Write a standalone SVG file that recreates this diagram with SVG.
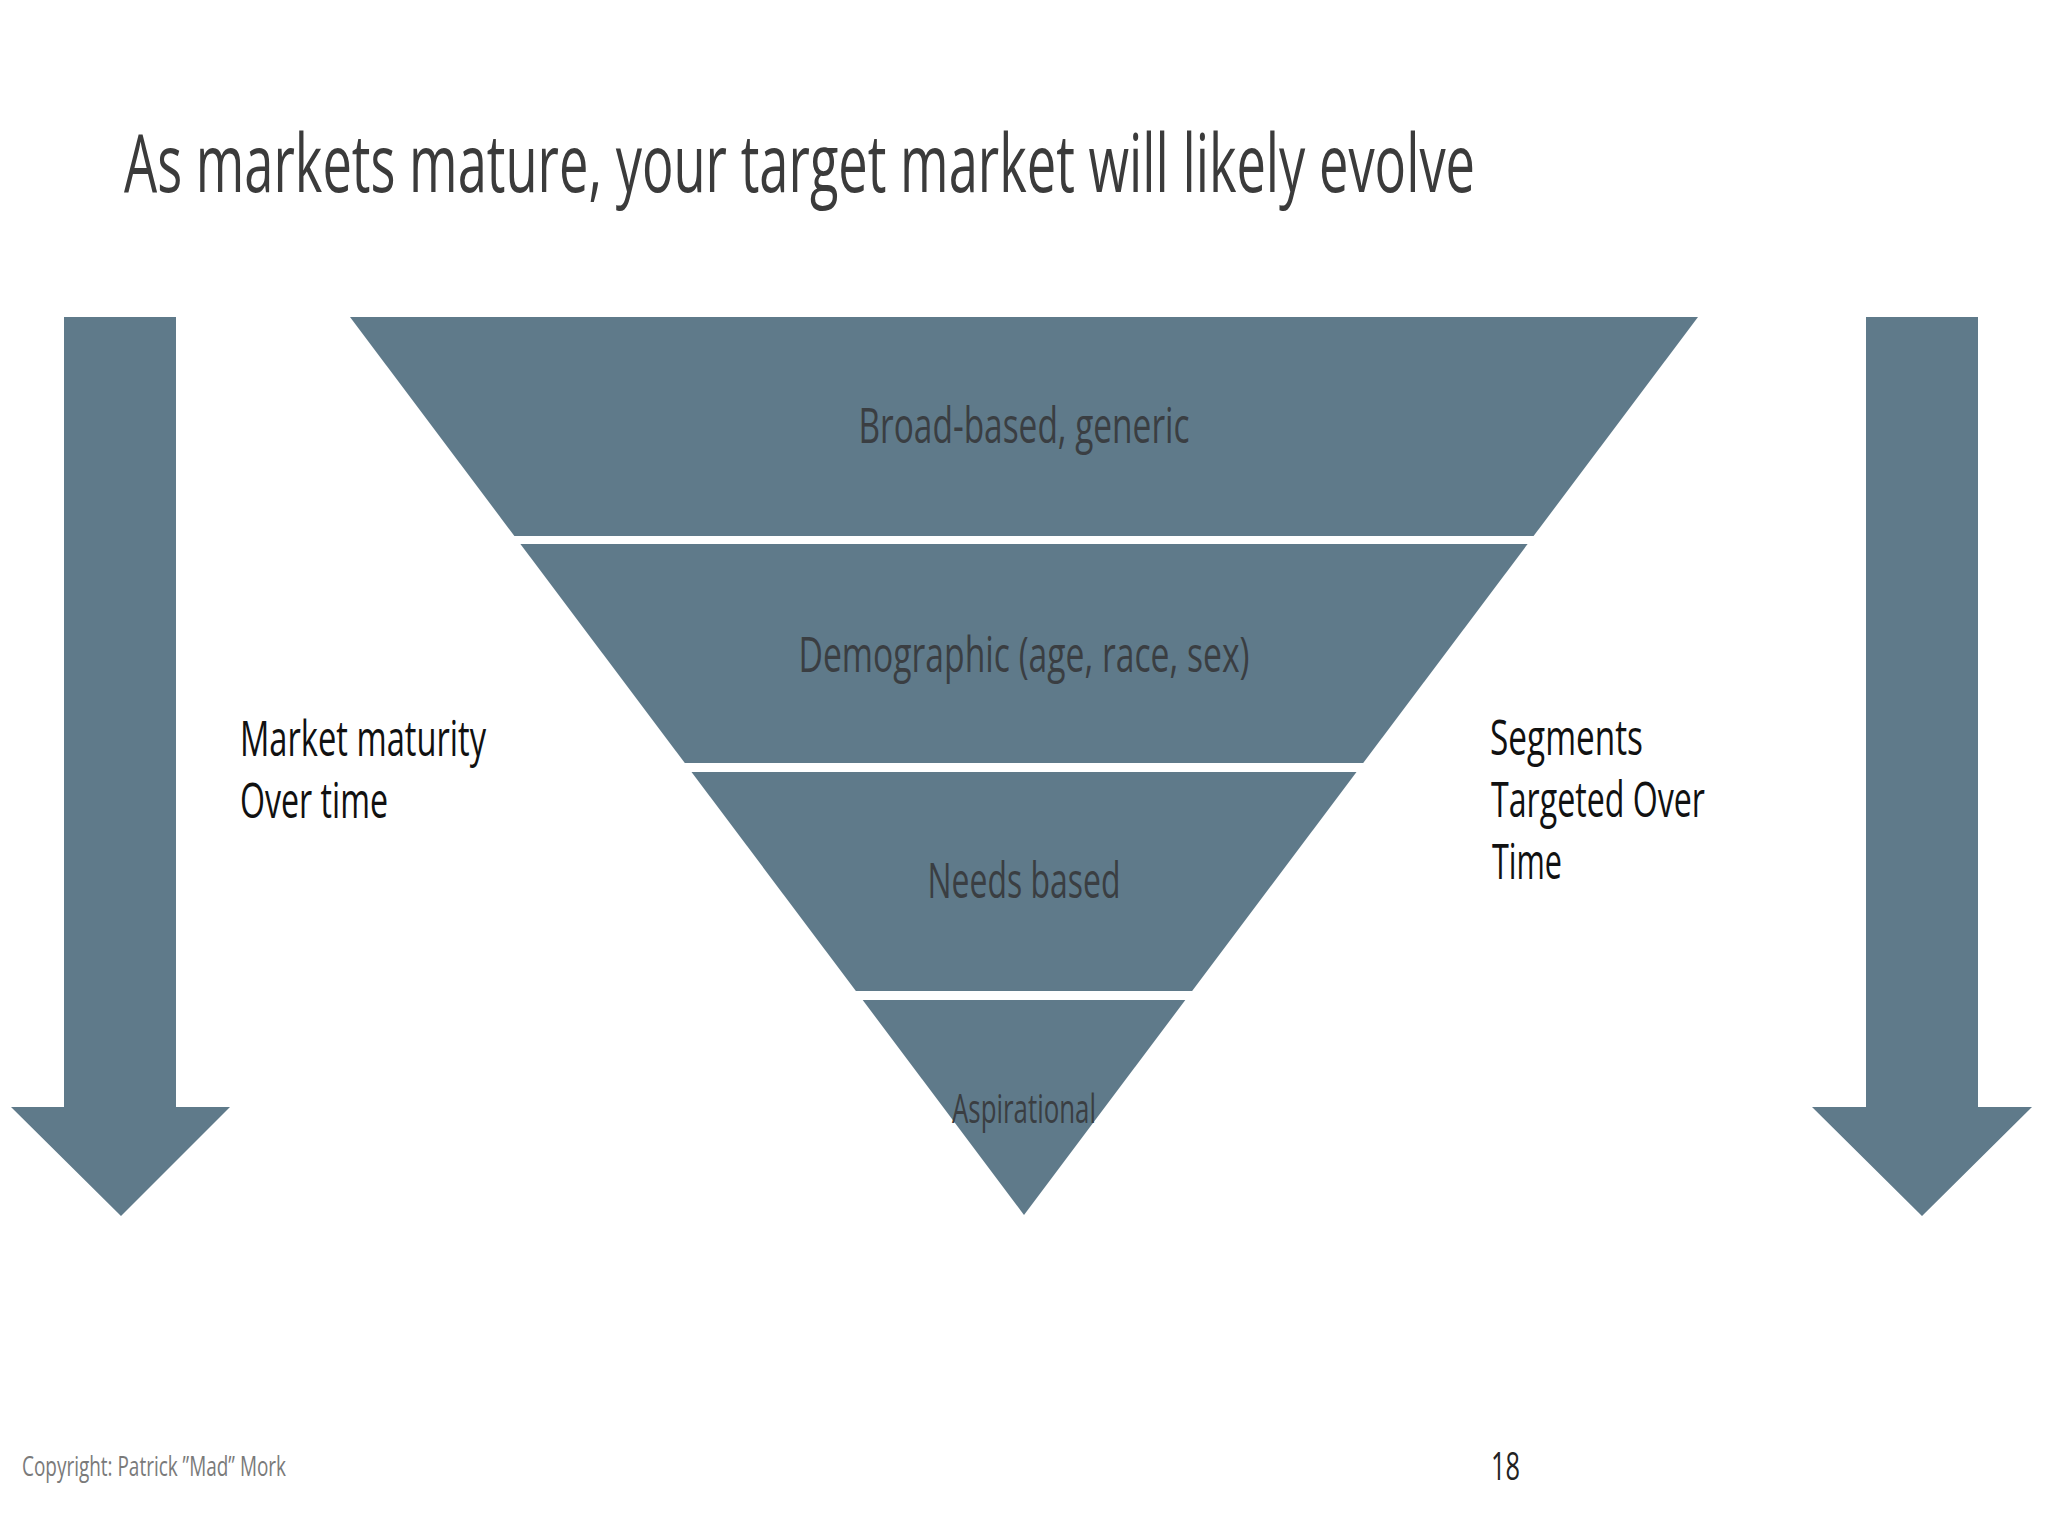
<svg xmlns="http://www.w3.org/2000/svg" width="2048" height="1536" viewBox="0 0 2048 1536">
<style>
.shape{fill:#5f7a8a}
.t{font-family:"Open Sans","Liberation Sans",sans-serif}
.title{font-size:80px;fill:#3b3b3b}
.band{font-size:50px;fill:#3a3e42;text-anchor:middle}
.side{font-size:49px;fill:#111}
.foot{font-size:28px;fill:#7a7a7a}
.num{font-size:39px;fill:#222}
</style>
<rect width="2048" height="1536" fill="#ffffff"/>
<text class="t title" x="124" y="192" textLength="1351" lengthAdjust="spacingAndGlyphs">As markets mature, your target market will likely evolve</text>
<g id="arrow-left">
<polygon class="shape" points="64,317 176,317 176,1107 230,1107 121,1216 11,1107 64,1107"/>
</g>
<g id="arrow-right">
<polygon class="shape" points="1866,317 1978,317 1978,1107 2032,1107 1922,1216 1812,1107 1866,1107"/>
</g>
<g id="band-1">
<polygon class="shape" points="350,317 1698,317 1533.6,536 514.4,536"/>
<text class="t band" x="1024" y="443" textLength="331" lengthAdjust="spacingAndGlyphs">Broad-based, generic</text>
</g>
<g id="band-2">
<polygon class="shape" points="520.4,544 1527.6,544 1363.2,763 684.8,763"/>
<text class="t band" x="1024" y="672" textLength="451" lengthAdjust="spacingAndGlyphs">Demographic (age, race, sex)</text>
</g>
<g id="band-3">
<polygon class="shape" points="691.5,772 1356.5,772 1192.1,991 855.9,991"/>
<text class="t band" x="1024" y="898" textLength="193" lengthAdjust="spacingAndGlyphs">Needs based</text>
</g>
<g id="band-4">
<polygon class="shape" points="862.7,1000 1185.3,1000 1024,1215"/>
<text class="t band" x="1024" y="1123" style="font-size:41px" textLength="144" lengthAdjust="spacingAndGlyphs">Aspirational</text>
</g>
<g id="label-left">
<text class="t side" x="240" y="756" textLength="246" lengthAdjust="spacingAndGlyphs">Market maturity</text>
<text class="t side" x="240" y="818" textLength="148" lengthAdjust="spacingAndGlyphs">Over time</text>
</g>
<g id="label-right">
<text class="t side" x="1490" y="755" textLength="153" lengthAdjust="spacingAndGlyphs">Segments</text>
<text class="t side" x="1491" y="817" textLength="214" lengthAdjust="spacingAndGlyphs">Targeted Over</text>
<text class="t side" x="1492" y="879" textLength="70" lengthAdjust="spacingAndGlyphs">Time</text>
</g>
<g id="connectors"></g>
<text class="t foot" x="22" y="1476" textLength="264" lengthAdjust="spacingAndGlyphs">Copyright: Patrick ”Mad” Mork</text>
<text class="t num" x="1491" y="1480" textLength="29" lengthAdjust="spacingAndGlyphs">18</text>
</svg>
